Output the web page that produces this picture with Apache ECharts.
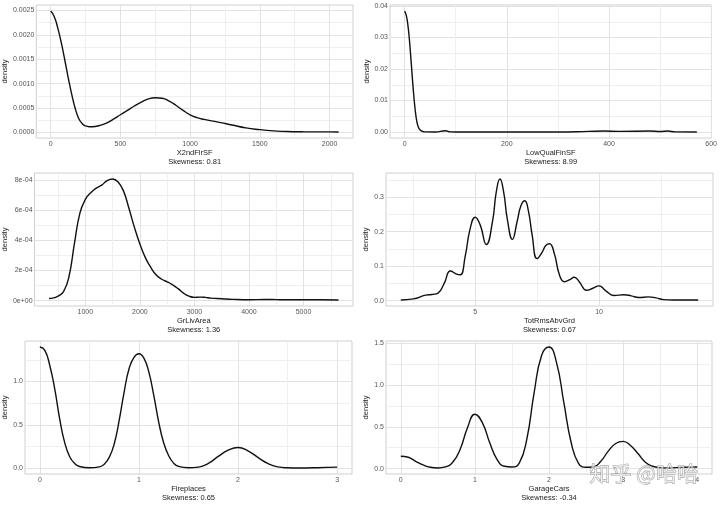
<!DOCTYPE html>
<html>
<head>
<meta charset="utf-8">
<script src="https://cdn.jsdelivr.net/npm/echarts@6/dist/echarts.min.js"></script>
<style>
html, body { margin: 0; padding: 0; background: #fff; }
#chart { width: 720px; height: 506px; }
</style>
</head>
<body>
<div id="chart"></div>
<script>
// X2ndFlrSF
const flr2X = [0, 25, 50, 75, 100, 125, 150, 175, 200, 225, 250, 275, 300, 350, 400, 450, 500, 550, 600, 650, 700, 750, 800, 850, 900, 950, 1000, 1050, 1100, 1200, 1300, 1400, 1500, 1600, 1700, 1800, 1900, 2000, 2065];
const flr2D = [0.00249, 0.00238, 0.00215, 0.00185, 0.0015, 0.00113, 0.00079, 0.0005, 0.00029, 0.00018, 0.00013, 0.000115, 0.000115, 0.00014, 0.00019, 0.00027, 0.00036, 0.00045, 0.00054, 0.00062, 0.000685, 0.00071, 0.0007, 0.00064, 0.00055, 0.00045, 0.00036, 0.0003, 0.000265, 0.00021, 0.00015, 0.00009, 0.000055, 0.00003, 0.000015, 0.00001, 0.000008, 0.000008, 0.000007];
const flr2XTicks = [0, 500, 1000, 1500, 2000];
const flr2YTicks = [0, 0.0005, 0.001, 0.0015, 0.002, 0.0025];
const flr2YLabels = ['0.0000', '0.0005', '0.0010', '0.0015', '0.0020', '0.0025'];

// LowQualFinSF
const lowQX = [0, 3, 6, 9, 12, 15, 18, 21, 24, 27, 30, 35, 40, 60, 80, 90, 100, 200, 300, 360, 390, 420, 480, 500, 515, 530, 572];
const lowQD = [0.0384, 0.0372, 0.0345, 0.03, 0.024, 0.0175, 0.0115, 0.0066, 0.0033, 0.0015, 0.0007, 0.0002, 0.00005, 0.00002, 0.0004, 0.00005, 0.00002, 0.00002, 0.00002, 0.0002, 0.0003, 0.0002, 0.0003, 0.00015, 0.0003, 0.00005, 0.00002];
const lowQXTicks = [0, 200, 400, 600];
const lowQYTicks = [0, 0.01, 0.02, 0.03, 0.04];
const lowQYLabels = ['0.00', '0.01', '0.02', '0.03', '0.04'];

// GrLivArea
const livX = [334, 400, 500, 600, 700, 800, 900, 1000, 1100, 1200, 1300, 1400, 1500, 1600, 1700, 1800, 1900, 2000, 2100, 2200, 2300, 2400, 2500, 2600, 2700, 2800, 2900, 3000, 3100, 3200, 3300, 3500, 3700, 4000, 4300, 4500, 4700, 5000, 5300, 5642];
const livD = [0.000015, 0.000017, 0.00003, 0.00006, 0.00016, 0.00038, 0.00058, 0.00067, 0.000715, 0.000745, 0.000765, 0.000795, 0.000805, 0.000785, 0.000725, 0.00061, 0.000485, 0.000375, 0.000285, 0.00022, 0.00017, 0.000142, 0.000125, 0.000105, 0.00008, 0.00005, 0.00003, 0.000022, 0.000024, 0.000022, 0.000017, 0.000013, 0.000009, 0.000006, 0.000008, 0.000007, 0.000006, 0.000006, 0.000006, 0.000005];
const livXTicks = [1000, 2000, 3000, 4000, 5000];
const livYTicks = [0, 0.0002, 0.0004, 0.0006, 0.0008];
const livYLabels = ['0e+00', '2e-04', '4e-04', '6e-04', '8e-04'];

// TotRmsAbvGrd
const rmsX = [2, 2.5, 3, 3.25, 3.5, 3.75, 4, 4.25, 4.4, 4.6, 4.8, 5, 5.2, 5.45, 5.7, 5.85, 6, 6.15, 6.3, 6.5, 6.7, 6.85, 7, 7.15, 7.3, 7.5, 7.7, 7.85, 8, 8.2, 8.4, 8.6, 8.8, 9, 9.2, 9.5, 9.75, 10, 10.25, 10.6, 11, 11.3, 11.6, 12, 12.3, 12.6, 13, 13.5, 14];
const rmsD = [0.002, 0.005, 0.016, 0.018, 0.022, 0.05, 0.086, 0.077, 0.075, 0.13, 0.21, 0.242, 0.22, 0.163, 0.23, 0.315, 0.353, 0.315, 0.235, 0.178, 0.232, 0.276, 0.29, 0.26, 0.19, 0.122, 0.14, 0.16, 0.165, 0.135, 0.075, 0.055, 0.06, 0.068, 0.055, 0.03, 0.036, 0.043, 0.03, 0.015, 0.017, 0.014, 0.009, 0.011, 0.008, 0.003, 0.002, 0.002, 0.002];
const rmsXTicks = [5, 10];
const rmsYTicks = [0, 0.1, 0.2, 0.3];
const rmsYLabels = ['0.0', '0.1', '0.2', '0.3'];

// Fireplaces
const fireX = [0, 0.05, 0.1, 0.15, 0.2, 0.25, 0.3, 0.35, 0.4, 0.5, 0.6, 0.65, 0.7, 0.75, 0.8, 0.85, 0.9, 0.95, 1, 1.05, 1.1, 1.15, 1.2, 1.25, 1.3, 1.35, 1.4, 1.5, 1.6, 1.7, 1.8, 1.9, 2, 2.1, 2.2, 2.3, 2.4, 2.5, 2.6, 2.8, 3];
const fireD = [1.398, 1.36, 1.185, 0.915, 0.568, 0.297, 0.135, 0.054, 0.019, 0.004, 0.015, 0.046, 0.124, 0.278, 0.548, 0.876, 1.147, 1.28, 1.32, 1.27, 1.108, 0.838, 0.529, 0.29, 0.143, 0.058, 0.02, 0.004, 0.012, 0.054, 0.135, 0.208, 0.239, 0.2, 0.124, 0.054, 0.015, 0.004, 0.002, 0.005, 0.012];
const fireXTicks = [0, 1, 2, 3];
const fireYTicks = [0, 0.5, 1];
const fireYLabels = ['0.0', '0.5', '1.0'];

// GarageCars
const carsX = [0, 0.1, 0.2, 0.3, 0.4, 0.5, 0.6, 0.7, 0.8, 0.9, 1, 1.1, 1.2, 1.3, 1.4, 1.5, 1.6, 1.7, 1.8, 1.9, 2, 2.1, 2.2, 2.3, 2.4, 2.5, 2.6, 2.7, 2.8, 2.9, 3, 3.1, 3.2, 3.3, 3.4, 3.5, 3.6, 3.8, 4];
const carsD = [0.148, 0.136, 0.088, 0.044, 0.016, 0.008, 0.02, 0.076, 0.229, 0.489, 0.65, 0.55, 0.309, 0.108, 0.028, 0.02, 0.068, 0.349, 0.91, 1.352, 1.452, 1.272, 0.79, 0.309, 0.06, 0.016, 0.02, 0.088, 0.209, 0.3, 0.325, 0.277, 0.18, 0.076, 0.028, 0.012, 0.008, 0.016, 0.02];
const carsXTicks = [0, 1, 2, 3, 4];
const carsYTicks = [0, 0.5, 1, 1.5];
const carsYLabels = ['0.0', '0.5', '1.0', '1.5'];

const panels = [
  { name: 'X2ndFlrSF', skew: '0.81', x: flr2X, d: flr2D, xt: flr2XTicks, yt: flr2YTicks, yl: flr2YLabels, rect: [35, 5, 318, 133], nameGap: 21 },
  { name: 'LowQualFinSF', skew: '8.99', x: lowQX, d: lowQD, xt: lowQXTicks, yt: lowQYTicks, yl: lowQYLabels, rect: [390, 5, 325, 133], nameGap: 17 },
  { name: 'GrLivArea', skew: '1.36', x: livX, d: livD, xt: livXTicks, yt: livYTicks, yl: livYLabels, rect: [34, 173, 319, 133], nameGap: 22 },
  { name: 'TotRmsAbvGrd', skew: '0.67', x: rmsX, d: rmsD, xt: rmsXTicks, yt: rmsYTicks, yl: rmsYLabels, rect: [386, 173, 327, 133], nameGap: 14 },
  { name: 'Fireplaces', skew: '0.65', x: fireX, d: fireD, xt: fireXTicks, yt: fireYTicks, yl: fireYLabels, rect: [25, 341, 327, 133], nameGap: 12 },
  { name: 'GarageCars', skew: '-0.34', x: carsX, d: carsD, xt: carsXTicks, yt: carsYTicks, yl: carsYLabels, rect: [386, 341, 326, 133], nameGap: 13 }
];

const FONT = '"Liberation Sans", Arial, sans-serif';
const MAJOR = '#e2e2e2';
const MINOR = '#efefef';

// ggplot style 5% padding on both ends
function expand(arr) {
  const lo = Math.min(...arr), hi = Math.max(...arr), pad = (hi - lo) * 0.05;
  return [lo - pad, hi + pad];
}

// major + minor gridline positions inside the extent
function gridLines(ticks, ext) {
  const step = ticks[1] - ticks[0];
  const all = [];
  const first = ticks[0] - step * Math.ceil((ticks[0] - ext[0]) / step);
  for (let v = first - step / 2; v <= ext[1] + step * 1e-9; v += step / 2) {
    const r = +v.toPrecision(10);
    if (r >= ext[0] && r <= ext[1]) all.push(r);
  }
  const isMajor = v => Math.abs(v / step - Math.round(v / step)) < 1e-6;
  const colors = isMajor(all[0]) ? [MAJOR, MINOR] : [MINOR, MAJOR];
  return { all, colors };
}

function labelFor(ticks, labels) {
  return v => {
    for (let i = 0; i < ticks.length; i++) {
      if (Math.abs(ticks[i] - v) < Math.abs(ticks[1] - ticks[0]) * 1e-6) return labels[i];
    }
    return '';
  };
}

const grid = [], xAxis = [], yAxis = [], series = [];
panels.forEach((p, i) => {
  const xe = expand(p.x);
  const ye = expand(p.d);
  const xg = gridLines(p.xt, xe);
  const yg = gridLines(p.yt, ye);
  const xin = p.xt.filter(v => v >= xe[0] && v <= xe[1]);
  const yin = p.yt.filter(v => v >= ye[0] && v <= ye[1]);
  grid.push({
    left: p.rect[0], top: p.rect[1], width: p.rect[2], height: p.rect[3],
    show: true, borderColor: '#cfcfcf', borderWidth: 1, backgroundColor: '#fff'
  });
  xAxis.push({
    type: 'value', gridIndex: i, min: xe[0], max: xe[1],
    name: p.name + '\nSkewness: ' + p.skew,
    nameLocation: 'middle', nameGap: 10,
    nameTextStyle: { fontFamily: FONT, fontSize: 7.5, lineHeight: 9, color: '#1a1a1a' },
    axisLine: { show: false },
    axisTick: { show: false, customValues: xg.all },
    splitLine: { show: true, lineStyle: { color: xg.colors, width: 1 } },
    axisLabel: {
      customValues: xin, margin: 3, fontFamily: FONT, fontSize: 7, color: '#555',
      formatter: v => String(Math.round(v))
    }
  });
  yAxis.push({
    type: 'value', gridIndex: i, min: ye[0], max: ye[1],
    name: 'density', nameLocation: 'middle', nameRotate: 90, nameGap: p.nameGap,
    nameTextStyle: { fontFamily: FONT, fontSize: 7.5, color: '#1a1a1a' },
    axisLine: { show: false },
    axisTick: { show: false, customValues: yg.all },
    splitLine: { show: true, lineStyle: { color: yg.colors, width: 1 } },
    axisLabel: {
      customValues: yin, margin: 2, fontFamily: FONT, fontSize: 7, color: '#555',
      formatter: labelFor(p.yt, p.yl)
    }
  });
  series.push({
    type: 'line', xAxisIndex: i, yAxisIndex: i,
    data: p.x.map((v, k) => [v, p.d[k]]),
    showSymbol: false, symbol: 'none',
    smooth: 0.5,
    lineStyle: { color: '#111', width: 1.4 }
  });
});

const chart = echarts.init(document.getElementById('chart'), null, { renderer: 'canvas' });
chart.setOption({
  animation: false,
  backgroundColor: '#fff',
  grid: grid,
  xAxis: xAxis,
  yAxis: yAxis,
  series: series,
  graphic: [{
    type: 'text', left: 589, top: 462, z: 100,
    style: {
      text: '知乎 @哈哈', font: '21px "Noto Sans CJK SC"',
      fill: 'rgba(255,255,255,0.55)', stroke: 'rgba(140,140,140,0.85)', lineWidth: 0.8
    }
  }]
});
</script>
</body>
</html>
